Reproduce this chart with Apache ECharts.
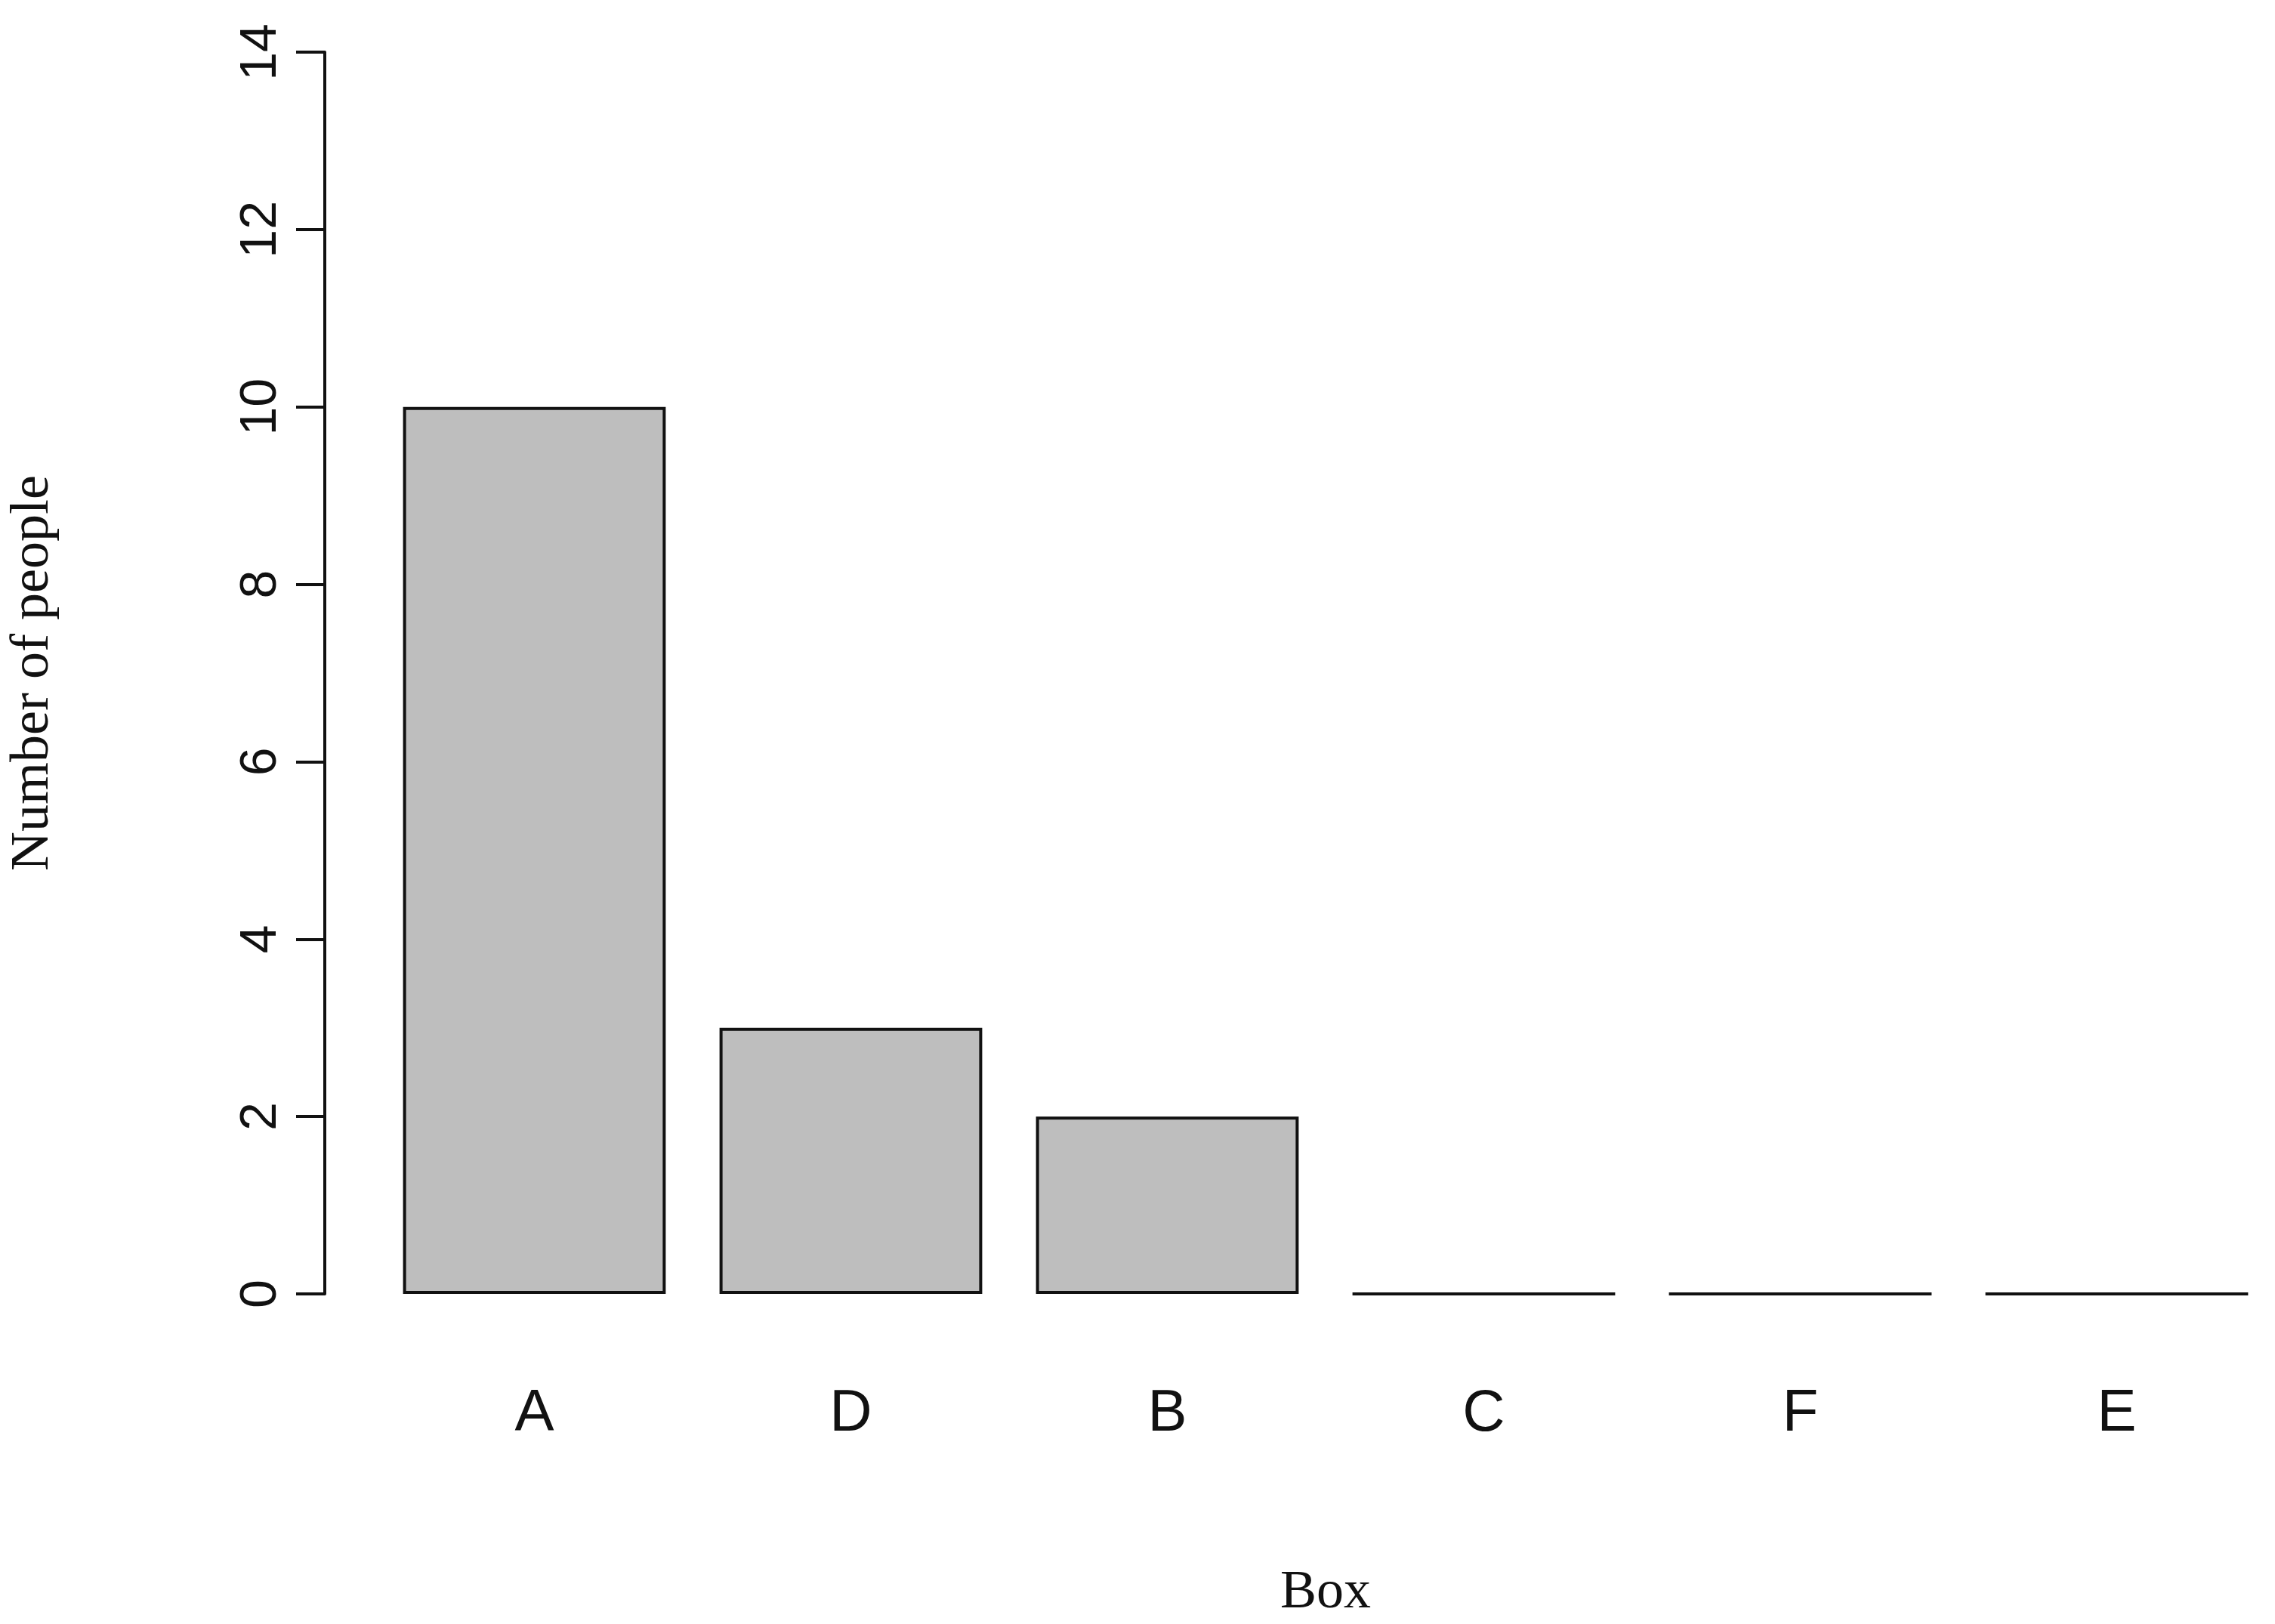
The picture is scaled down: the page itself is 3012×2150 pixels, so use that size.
<!DOCTYPE html>
<html>
<head>
<meta charset="utf-8">
<script src="https://cdn.jsdelivr.net/npm/echarts@6/dist/echarts.min.js"></script>
<style>html,body{margin:0;padding:0;background:#fff}#chart{width:3012px;height:2150px}</style>
</head>
<body>
<div id="chart"></div>
<script>
// bar chart data, order as shown
let boxes = ['A', 'D', 'B', 'C', 'F', 'E'];
let people = [10, 3, 2, 0, 0, 0];
let yTicks = [0, 2, 4, 6, 8, 10, 12, 14];

let myChart = echarts.init(document.getElementById('chart'));
myChart.setOption({
    animation: false,
    grid: {left: 487, right: -10, top: 69, bottom: 431},
    xAxis: {
        type: 'category',
        data: boxes,
        axisLine: {show: false},
        axisTick: {show: false},
        axisLabel: {color: '#111', fontFamily: 'Liberation Sans', fontSize: 78, margin: 120},
        name: 'Box',
        nameLocation: 'middle',
        nameGap: 360,
        nameTextStyle: {color: '#111', fontFamily: 'Liberation Serif', fontSize: 72},
        // shift so Box title sits near x=1750
    },
    yAxis: {
        type: 'value',
        min: 0, max: 14, interval: 2,
        offset: 68,
        splitLine: {show: false},
        axisLine: {show: true, lineStyle: {color: '#111', width: 4}},
        axisTick: {show: true, length: 38, lineStyle: {color: '#111', width: 4}},
        axisLabel: {color: '#111', fontFamily: 'Liberation Sans', fontSize: 68, rotate: 90, margin: 50,
            formatter: v => yTicks.indexOf(v) >= 0 ? String(v) : ''},
        name: 'Number of people',
        nameLocation: 'middle',
        nameGap: 350,
        nameTextStyle: {color: '#111', fontFamily: 'Liberation Serif', fontSize: 72}
    },
    series: [{
        type: 'bar',
        data: people,
        barCategoryGap: '17%',
        itemStyle: {color: '#bebebe', borderColor: '#111', borderWidth: 4}
    }]
});
</script>
</body>
</html>
